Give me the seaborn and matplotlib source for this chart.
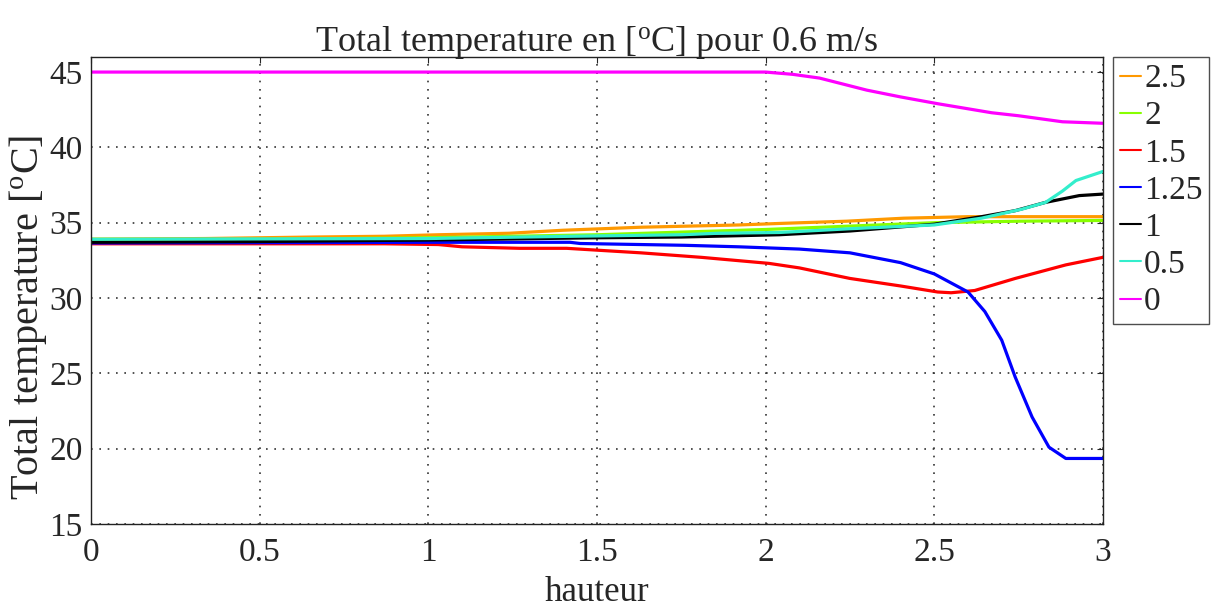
import matplotlib
matplotlib.use('Agg')
import matplotlib.pyplot as plt
import pandas as pd
import seaborn as sns

# Data (hauteur vs total temperature)
labels = ['2.5', '2', '1.5', '1.25', '1', '0.5', '0']
colors = ['#FF9900', '#88FF00', '#FF0000', '#0000FF', '#000000', '#33EECC', '#FF00FF']

x_25 = [0, 0.34, 0.66, 0.87, 1.03, 1.24, 1.40, 1.63, 1.92, 2.04, 2.24, 2.41, 2.60, 3.0]
y_25 = [33.9, 33.95, 34.05, 34.1, 34.2, 34.3, 34.5, 34.7, 34.85, 34.95, 35.1, 35.3, 35.4, 35.4]

x_2 = [0, 0.5, 1.0, 1.5, 2.0, 2.5, 2.75, 3.0]
y_2 = [33.9, 33.9, 34.0, 34.2, 34.55, 35.0, 35.1, 35.15]

x_15 = [0, 0.87, 1.03, 1.1, 1.27, 1.41, 1.63, 1.81, 2.01, 2.10, 2.25, 2.40, 2.51, 2.55, 2.62, 2.74, 2.89, 3.0]
y_15 = [33.6, 33.6, 33.55, 33.4, 33.3, 33.3, 33.0, 32.7, 32.3, 32.0, 31.3, 30.8, 30.4, 30.35, 30.5, 31.3, 32.2, 32.7]

x_125 = [0, 1.0, 1.42, 1.45, 1.76, 1.92, 2.04, 2.10, 2.25, 2.40, 2.50, 2.55, 2.60, 2.65, 2.70, 2.74, 2.79, 2.84, 2.89, 3.0]
y_125 = [33.65, 33.7, 33.7, 33.62, 33.5, 33.4, 33.3, 33.25, 33.0, 32.35, 31.6, 31.0, 30.4, 29.1, 27.2, 24.75, 22.1, 20.1, 19.35, 19.35]

x_1 = [0, 0.5, 1.0, 1.5, 1.75, 2.04, 2.25, 2.5, 2.64, 2.74, 2.83, 2.93, 3.0]
y_1 = [33.7, 33.75, 33.85, 34.0, 34.05, 34.2, 34.45, 34.9, 35.4, 35.8, 36.35, 36.8, 36.9]

x_05 = [0, 1.0, 1.43, 1.75, 1.86, 2.04, 2.25, 2.5, 2.64, 2.76, 2.83, 2.88, 2.92, 2.96, 3.0]
y_05 = [33.9, 33.95, 34.1, 34.2, 34.3, 34.35, 34.6, 34.85, 35.3, 35.9, 36.35, 37.1, 37.8, 38.1, 38.4]

x_0 = [0, 2.0, 2.08, 2.16, 2.23, 2.30, 2.40, 2.51, 2.67, 2.75, 2.88, 3.0]
y_0 = [45, 45, 44.85, 44.6, 44.2, 43.8, 43.35, 42.9, 42.3, 42.1, 41.7, 41.6]

xs = [x_25, x_2, x_15, x_125, x_1, x_05, x_0]
ys = [y_25, y_2, y_15, y_125, y_1, y_05, y_0]

df = pd.concat([pd.DataFrame({'hauteur': x, 'temp': y, 'v': lab})
                for x, y, lab in zip(xs, ys, labels)], ignore_index=True)

sns.set_style('white')
plt.rcParams['font.family'] = ['Liberation Serif', 'DejaVu Serif']
plt.rcParams['mathtext.fontset'] = 'custom'
plt.rcParams['mathtext.rm'] = 'Liberation Serif'
plt.rcParams['mathtext.it'] = 'Liberation Serif'

fig, ax = plt.subplots(figsize=(12.12, 6.09), dpi=100)
fig.subplots_adjust(left=0.0751, right=0.910, bottom=0.1396, top=0.9064)

sns.lineplot(data=df, x='hauteur', y='temp', hue='v', hue_order=labels,
             palette=dict(zip(labels, colors)), estimator=None, linewidth=2.3, ax=ax)

ax.set_xlim(0, 3)
ax.set_ylim(15, 46)
ax.set_xticks([0, 0.5, 1, 1.5, 2, 2.5, 3])
ax.set_xticklabels(['0', '0.5', '1', '1.5', '2', '2.5', '3'])
ax.set_yticks([15, 20, 25, 30, 35, 40, 45])
ax.grid(True, color='#333333', linestyle=(0, (1, 4)), linewidth=1.2)
ax.tick_params(labelsize=24, direction='in', length=4, top=True, right=True)
ax.tick_params(axis='x', pad=10)
ax.tick_params(axis='y', pad=6)
for s in ax.spines.values():
    s.set_color('#222222')
    s.set_linewidth(1.0)

ax.set_title('Total temperature en [$^{\\mathrm{o}}$C] pour 0.6 m/s', fontsize=26, pad=4)
ax.set_xlabel('hauteur', fontsize=25)
ax.xaxis.set_label_coords(0.5, -0.112)
ax.set_ylabel('Total temperature [$^{\\mathrm{o}}$C]', fontsize=29)
ax.yaxis.set_label_coords(-0.042, 0.443)

leg = ax.legend(loc='upper left', bbox_to_anchor=(1113 / 1212, 1 - 57 / 609),
                bbox_transform=fig.transFigure, borderaxespad=0, fontsize=24,
                handlelength=0.65, handletextpad=0.08, labelspacing=0.2,
                borderpad=0.2, frameon=True, fancybox=False, title=None)
leg.get_frame().set_edgecolor('#222222')
leg.get_frame().set_linewidth(1.0)
for line in leg.get_lines():
    line.set_linewidth(1.5)

fig.savefig('out.png', dpi=100)
